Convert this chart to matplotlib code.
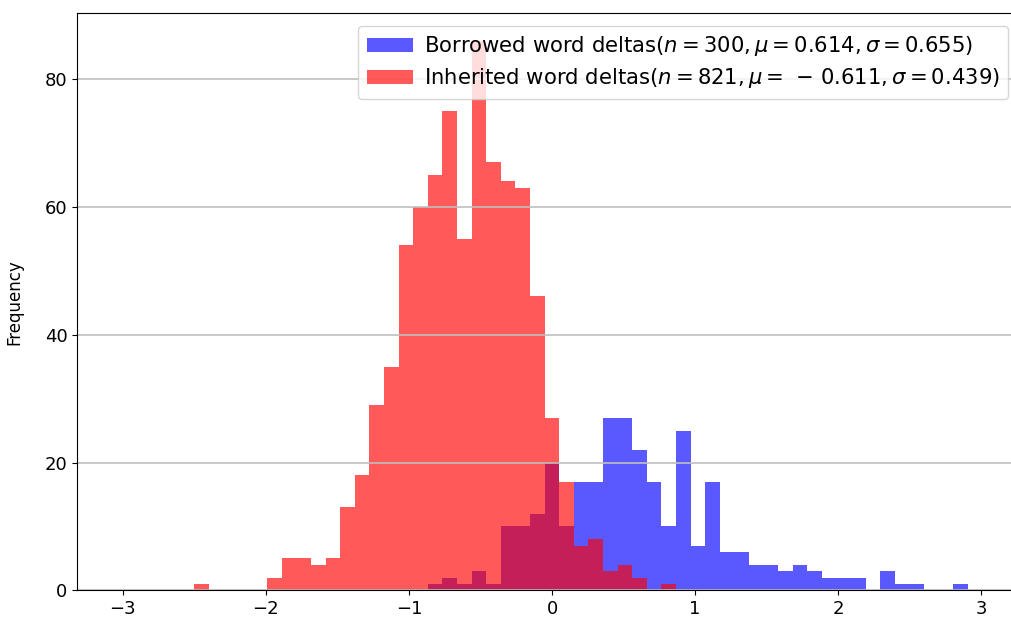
import numpy as np
import matplotlib
matplotlib.use("Agg")
import matplotlib.pyplot as plt

# shared histogram bins
bin_start = -2.50
bin_width = 0.102
n_bins = 53

# counts per bin (bin 0 starts at bin_start)
borrowed_counts = [0] * 16 + [1, 2, 1, 3, 1, 10, 10, 12, 20, 10,
                              17, 17, 27, 27, 22, 17, 10, 25, 7, 17,
                              6, 6, 4, 4, 3, 4, 3, 2, 2, 2,
                              0, 3, 1, 1, 0, 0, 1]
inherited_counts = [1, 0, 0, 0, 0, 2, 5, 5, 4, 5,
                    13, 18, 29, 35, 54, 60, 65, 75, 55, 86,
                    67, 64, 63, 46, 27, 17, 7, 8, 3, 4,
                    2, 0, 1] + [0] * 20

borrowed_label = r'Borrowed word deltas($n=300, \mu=0.614, \sigma=0.655$)'
inherited_label = r'Inherited word deltas($n=821, \mu=\,-\,0.611, \sigma=0.439$)'

xticks = [-3, -2, -1, 0, 1, 2, 3]
yticks = [0, 20, 40, 60, 80]

edges = bin_start + bin_width * np.arange(n_bins + 1)
centers = edges[:-1] + bin_width / 2

fig = plt.figure(figsize=(10.11, 6.24), dpi=100)
ax = fig.add_axes([0.0762, 0.054, 0.9397, 0.9247])

ax.hist(centers, bins=edges, weights=borrowed_counts, color='b', alpha=0.65,
        label=borrowed_label)
ax.hist(centers, bins=edges, weights=inherited_counts, color='r', alpha=0.65,
        label=inherited_label)

ax.set_xlim(-3.32, 3.32)
ax.set_ylim(0, 86 * 1.05)
ax.set_xticks(xticks)
ax.set_yticks(yticks)
ax.tick_params(labelsize=13)
ax.set_ylabel('Frequency', fontsize=12, labelpad=15)
ax.grid(axis='y', color='0.75', linewidth=1.2)
ax.spines['right'].set_visible(False)

ax.legend(loc='upper right', bbox_to_anchor=(1008 / 1011, 1 - 26 / 624),
          bbox_transform=fig.transFigure, borderaxespad=0, fontsize=15.2,
          labelspacing=0.38, borderpad=0.4, handlelength=2.2, handletextpad=0.5)

fig.savefig('out.png', dpi=100)
